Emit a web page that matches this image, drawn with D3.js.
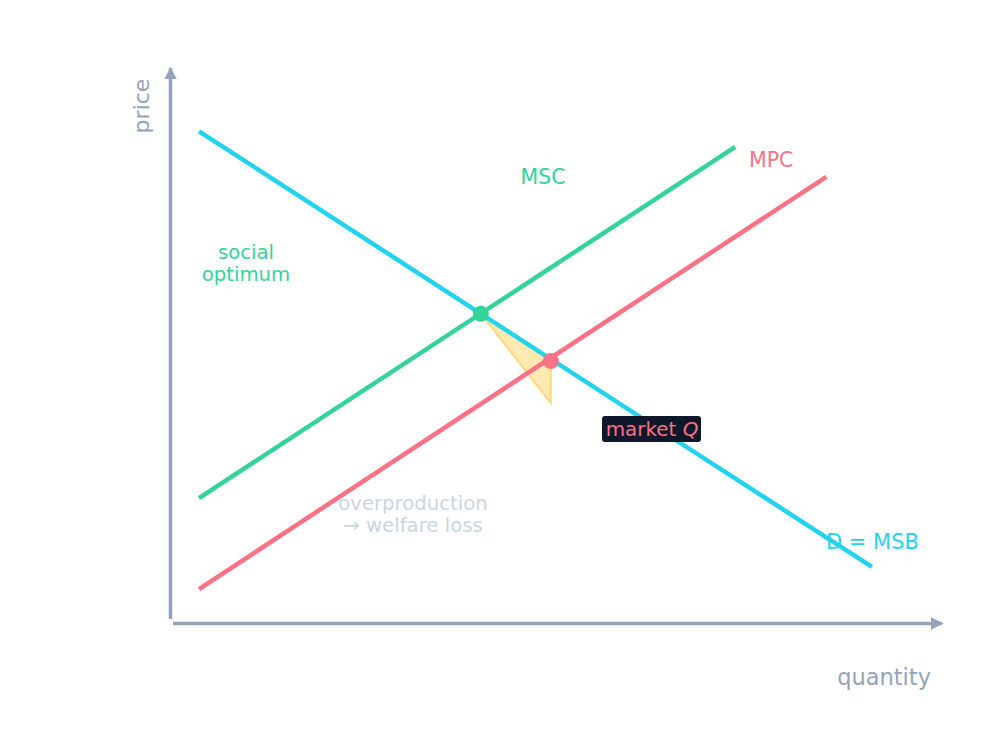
<!DOCTYPE html>
<html>
<head>
<meta charset="utf-8">
<script src="https://cdn.jsdelivr.net/npm/d3@7"></script>
<style>
  html, body { margin: 0; padding: 0; background: #ffffff; }
  svg text { font-family: "DejaVu Sans", sans-serif; }
</style>
</head>
<body>
<div id="chart-area"></div>
<script>
// curve endpoints, in quantity / price units
const curveNames = ["D = MSB", "MSC", "MPC"];
const curveQ = [[0.4, 10.0], [0.4, 8.05], [0.4, 9.35]];
const curveP = [[8.86, 1.01], [2.25, 8.58], [0.61, 8.04]];

// equilibrium points
const pointNames = ["social optimum", "market Q"];
const pointQ = [4.42, 5.42];
const pointP = [5.57, 4.72];

// deadweight loss triangle
const lossQ = [4.42, 5.42, 5.42];
const lossP = [5.57, 4.72, 3.96];

const colors = {
  demand: "#22d3ee",
  msc: "#34d399",
  mpc: "#fb7185",
  axis: "#94a3b8",
  note: "#cbd5e1",
  box: "#0f172a",
  loss: "#fbbf24"
};
const curveColors = [colors.demand, colors.msc, colors.mpc];

const svgWidth = 996, svgHeight = 756;
const svg = d3.select("#chart-area")
  .append("svg")
    .attr("width", svgWidth)
    .attr("height", svgHeight);

const x = d3.scaleLinear().domain([0, 11]).range([171, 942]);
const y = d3.scaleLinear().domain([0, 10]).range([623, 68]);

// arrow heads
const defs = svg.append("defs");
defs.append("marker")
    .attr("id", "arrow")
    .attr("viewBox", "0 0 10 10")
    .attr("refX", 9)
    .attr("refY", 5)
    .attr("markerWidth", 3.6)
    .attr("markerHeight", 3.6)
    .attr("markerUnits", "strokeWidth")
    .attr("orient", "auto")
  .append("path")
    .attr("d", "M0,0 L10,5 L0,10 Z")
    .attr("fill", colors.axis);

// axes
svg.append("line")
  .attr("x1", x(0) - 0.5).attr("y1", y(0) - 4)
  .attr("x2", x(0) - 0.5).attr("y2", y(10))
  .attr("stroke", colors.axis)
  .attr("stroke-width", 3.5)
  .attr("marker-end", "url(#arrow)");
svg.append("line")
  .attr("x1", x(0) + 2).attr("y1", y(0) + 0.5)
  .attr("x2", x(11)).attr("y2", y(0) + 0.5)
  .attr("stroke", colors.axis)
  .attr("stroke-width", 3.5)
  .attr("marker-end", "url(#arrow)");

svg.append("text")
  .text("quantity")
  .attr("x", 931)
  .attr("y", 685)
  .attr("text-anchor", "end")
  .attr("font-size", 22.5)
  .attr("fill", colors.axis);
svg.append("text")
  .text("price")
  .attr("transform", "translate(149,106) rotate(-90)")
  .attr("text-anchor", "middle")
  .attr("font-size", 22)
  .attr("fill", colors.axis);

// welfare loss triangle
svg.append("path")
  .datum(lossQ.map((q, i) => [q, lossP[i]]))
  .attr("d", d => d3.line().x(p => x(p[0])).y(p => y(p[1]))(d) + "Z")
  .attr("fill", colors.loss)
  .attr("fill-opacity", 0.35)
  .attr("stroke", colors.loss)
  .attr("stroke-opacity", 0.5)
  .attr("stroke-width", 2);

// curves
const line = d3.line().x(d => x(d[0])).y(d => y(d[1]));
curveNames.forEach((name, i) => {
  const pts = curveQ[i].map((q, j) => [q, curveP[i][j]]);
  svg.append("path")
    .datum(pts)
    .attr("d", line)
    .attr("fill", "none")
    .attr("stroke", curveColors[i])
    .attr("stroke-width", 4.5)
    .attr("stroke-linecap", "butt");
});

// equilibrium dots
svg.selectAll(".dot")
  .data(pointQ.map((q, i) => ({q: q, p: pointP[i], color: i === 0 ? colors.msc : colors.mpc})))
  .enter()
  .append("circle")
    .attr("class", "dot")
    .attr("cx", d => x(d.q))
    .attr("cy", d => y(d.p))
    .attr("r", 8)
    .attr("fill", d => d.color);

// curve labels
svg.append("text")
  .text("MSC")
  .attr("x", 543).attr("y", 184)
  .attr("text-anchor", "middle")
  .attr("font-size", 20.5)
  .attr("fill", colors.msc);
svg.append("text")
  .text("MPC")
  .attr("x", 749).attr("y", 167)
  .attr("font-size", 20.5)
  .attr("fill", colors.mpc);
svg.append("text")
  .text("D = MSB")
  .attr("x", 826).attr("y", 549)
  .attr("font-size", 21)
  .attr("fill", colors.demand);

// social optimum
const social = svg.append("text")
  .attr("text-anchor", "middle")
  .attr("font-size", 19.7)
  .attr("fill", colors.msc);
social.append("tspan").text("social").attr("x", 246).attr("y", 259);
social.append("tspan").text("optimum").attr("x", 246).attr("y", 281);

// overproduction note
const note = svg.append("text")
  .attr("text-anchor", "middle")
  .attr("font-size", 19.7)
  .attr("fill", colors.note);
note.append("tspan").text("overproduction").attr("x", 413).attr("y", 510);
note.append("tspan").text("→ welfare loss").attr("x", 413).attr("y", 532);

// market Q label
svg.append("rect")
  .attr("x", 602).attr("y", 416)
  .attr("width", 99).attr("height", 26)
  .attr("rx", 3)
  .attr("fill", colors.box);
const mq = svg.append("text")
  .attr("x", 652).attr("y", 436)
  .attr("text-anchor", "middle")
  .attr("font-size", 19.9)
  .attr("fill", colors.mpc);
mq.append("tspan").text("market ");
mq.append("tspan").text("Q").attr("font-style", "italic");
</script>
</body>
</html>
